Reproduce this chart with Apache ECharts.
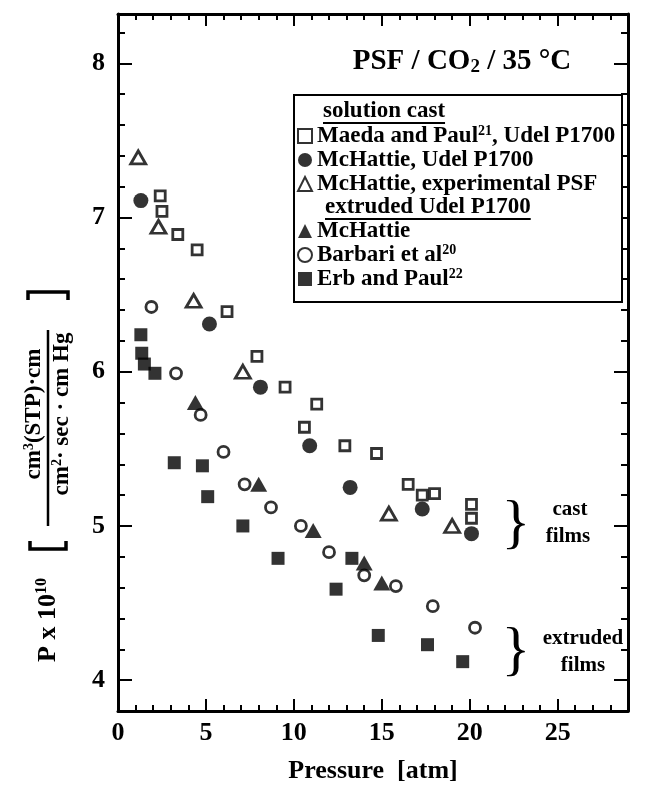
<!DOCTYPE html>
<html><head><meta charset="utf-8">
<script src="https://cdn.jsdelivr.net/npm/echarts@6/dist/echarts.min.js"></script>
<style>html,body{margin:0;padding:0;background:#fff}#c{width:646px;height:789px}</style>
</head><body><div id="c"></div>
<script>
// ---- data ----
const xMajor = [0, 5, 10, 15, 20, 25];
const xMinor = [1,2,3,4,6,7,8,9,11,12,13,14,16,17,18,19,21,22,23,24,26,27,28];
const yMajor = [4, 5, 6, 7, 8];
const yMinor = [4.2,4.4,4.6,4.8,5.2,5.4,5.6,5.8,6.2,6.4,6.6,6.8,7.2,7.4,7.6,7.8,8.2];

const seriesNames = [
  'Maeda and Paul, Udel P1700',
  'McHattie, Udel P1700',
  'McHattie, experimental PSF',
  'McHattie',
  'Barbari et al',
  'Erb and Paul'
];
const nameSup = { 'Maeda and Paul, Udel P1700': ['Maeda and Paul', '21', ', Udel P1700'], 'Barbari et al': ['Barbari et al', '20', ''], 'Erb and Paul': ['Erb and Paul', '22', ''] };

const maedaPaul = [[2.4,7.14],[2.5,7.04],[3.4,6.89],[4.5,6.79],[6.2,6.39],[7.9,6.10],[9.5,5.90],[10.6,5.64],[11.3,5.79],[12.9,5.52],[14.7,5.47],[16.5,5.27],[17.3,5.20],[18.0,5.21],[20.1,5.14],[20.1,5.05]];
const mchattieUdel = [[1.3,7.11],[5.2,6.31],[8.1,5.90],[10.9,5.52],[13.2,5.25],[17.3,5.11],[20.1,4.95]];
const mchattieExp = [[1.15,7.39],[2.3,6.94],[4.3,6.46],[7.1,6.00],[15.4,5.08],[19.0,5.00]];
const mchattieExt = [[4.4,5.80],[8.0,5.27],[11.1,4.97],[14.0,4.76],[15.0,4.63]];
const barbari = [[1.9,6.42],[3.3,5.99],[4.7,5.72],[6.0,5.48],[7.2,5.27],[8.7,5.12],[10.4,5.00],[12.0,4.83],[14.0,4.68],[15.8,4.61],[17.9,4.48],[20.3,4.34]];
const erbPaul = [[1.3,6.24],[1.35,6.12],[1.5,6.05],[2.1,5.99],[3.2,5.41],[4.8,5.39],[5.1,5.19],[7.1,5.00],[9.1,4.79],[12.4,4.59],[13.3,4.79],[14.8,4.29],[17.6,4.23],[19.6,4.12]];

// ---- styling ----
const FONT = '"Liberation Serif", "Times New Roman", serif';
const BLK = '#000';
const chart = echarts.init(document.getElementById('c'), null, { renderer: 'canvas' });

function textWidth(t, size) {
  const c = document.createElement('canvas').getContext('2d');
  c.font = 'bold ' + size + 'px ' + FONT;
  return c.measureText(t).width;
}

function xAx(pos, vals, len, line, labels) {
  return {
    type: 'value', min: 0, max: 29, position: pos,
    axisLine: { show: line, onZero: false, lineStyle: { color: BLK, width: 3 } },
    axisTick: { show: true, inside: true, length: len, customValues: vals, lineStyle: { color: BLK, width: 2 } },
    axisLabel: labels ? { show: true, customValues: vals, margin: 9, fontSize: 26, fontWeight: 'bold', fontFamily: FONT, color: BLK } : { show: false },
    splitLine: { show: false }
  };
}
function yAx(pos, vals, len, line, labels) {
  return {
    type: 'value', min: 3.8, max: 8.32, position: pos,
    axisLine: { show: line, onZero: false, lineStyle: { color: BLK, width: 3 } },
    axisTick: { show: true, inside: true, length: len, customValues: vals, lineStyle: { color: BLK, width: 2 } },
    axisLabel: labels ? { show: true, customValues: vals, margin: 13, fontSize: 26, fontWeight: 'bold', fontFamily: FONT, color: BLK } : { show: false },
    splitLine: { show: false }
  };
}

const xAxes = [xAx('bottom', xMajor, 12, true, true), xAx('bottom', xMinor, 6, false, false), xAx('top', xMajor, 12, true, false), xAx('top', xMinor, 6, false, false)];
xAxes[0].name = 'Pressure  [atm]';
xAxes[0].nameLocation = 'middle';
xAxes[0].nameGap = 47;
xAxes[0].nameTextStyle = { fontSize: 26, fontWeight: 'bold', fontFamily: FONT, color: BLK };
const yAxes = [yAx('left', yMajor, 14, true, true), yAx('left', yMinor, 7, false, false), yAx('right', yMajor, 14, true, false), yAx('right', yMinor, 7, false, false)];

const openStyle = { color: '#fff', borderColor: BLK, borderWidth: 2.8 };
const fillStyle = { color: BLK, borderWidth: 0 };
const seriesDefs = [
  { data: maedaPaul, symbol: 'rect', size: 10, style: openStyle },
  { data: mchattieUdel, symbol: 'circle', size: 15, style: fillStyle },
  { data: mchattieExp, symbol: 'triangle', size: [15, 13], style: openStyle },
  { data: mchattieExt, symbol: 'triangle', size: [17, 15], style: fillStyle },
  { data: barbari, symbol: 'circle', size: 11, style: openStyle },
  { data: erbPaul, symbol: 'rect', size: 13, style: fillStyle }
];
const series = seriesDefs.map((d, i) => ({
  type: 'scatter', name: seriesNames[i], data: d.data, symbol: d.symbol, symbolSize: d.size,
  itemStyle: d.style, xAxisIndex: 0, yAxisIndex: 0, emphasis: { disabled: true }
}));

const LF = 23;
const legendText = { fontSize: LF, fontWeight: 'bold', fontFamily: FONT, color: BLK, lineHeight: 24,
  rich: {
    t: { fontSize: LF, fontWeight: 'bold', fontFamily: FONT, color: BLK, lineHeight: 24 },
    s: { fontSize: 14, fontWeight: 'bold', fontFamily: FONT, color: BLK, lineHeight: 12, verticalAlign: 'top' }
  } };
function legendFmt(n) {
  const p = nameSup[n];
  return p ? '{t|' + p[0] + '}{s|' + p[1] + '}' + (p[2] ? '{t|' + p[2] + '}' : '') : '{t|' + n + '}';
}
function legend(names, top) {
  return { show: true, orient: 'vertical', left: 297, top: top, itemWidth: 14, itemHeight: 14, itemGap: 0,
    padding: 0, selectedMode: false, data: names, textStyle: legendText, formatter: legendFmt };
}

const hdr1 = 'solution cast', hdr2 = 'extruded Udel P1700';
const w1 = textWidth(hdr1, LF) || 120, w2 = textWidth(hdr2, LF) || 210;

const graphic = [
  { type: 'rect', z: 1, shape: { x: 294, y: 95, width: 328, height: 207 }, style: { fill: '#fff', stroke: BLK, lineWidth: 2 } },
  { type: 'text', z: 2, x: 323, y: 111, style: { text: hdr1, font: 'bold ' + LF + 'px ' + FONT, fill: BLK, align: 'left', verticalAlign: 'middle' } },
  { type: 'line', z: 2, shape: { x1: 323, y1: 123, x2: 323 + w1, y2: 123 }, style: { stroke: BLK, lineWidth: 2 } },
  { type: 'text', z: 2, x: 325, y: 207, style: { text: hdr2, font: 'bold ' + LF + 'px ' + FONT, fill: BLK, align: 'left', verticalAlign: 'middle' } },
  { type: 'line', z: 2, shape: { x1: 325, y1: 219, x2: 325 + w2, y2: 219 }, style: { stroke: BLK, lineWidth: 2 } },
  // title
  { type: 'text', x: 462, y: 62, style: { text: '{t|PSF / CO}{b|2}{t| / 35 °C}', align: 'center', verticalAlign: 'middle', fill: BLK,
      rich: { t: { fontSize: 29, fontWeight: 'bold', fontFamily: FONT, color: BLK, lineHeight: 30 },
              b: { fontSize: 19, fontWeight: 'bold', fontFamily: FONT, color: BLK, lineHeight: 14, verticalAlign: 'bottom' } } } },
  // braces and labels
  { type: 'text', x: 516, y: 525, style: { text: '}', font: '60px ' + FONT, fill: BLK, align: 'center', verticalAlign: 'middle' } },
  { type: 'text', x: 570, y: 510, style: { text: 'cast', font: 'bold 21px ' + FONT, fill: BLK, align: 'center', verticalAlign: 'middle' } },
  { type: 'text', x: 568, y: 537, style: { text: 'films', font: 'bold 21px ' + FONT, fill: BLK, align: 'center', verticalAlign: 'middle' } },
  { type: 'text', x: 516, y: 652, style: { text: '}', font: '60px ' + FONT, fill: BLK, align: 'center', verticalAlign: 'middle' } },
  { type: 'text', x: 583, y: 639, style: { text: 'extruded', font: 'bold 21px ' + FONT, fill: BLK, align: 'center', verticalAlign: 'middle' } },
  { type: 'text', x: 583, y: 666, style: { text: 'films', font: 'bold 21px ' + FONT, fill: BLK, align: 'center', verticalAlign: 'middle' } },
  // y axis title, rotated
  { type: 'group', x: 48, y: 662, rotation: Math.PI / 2, children: [
    { type: 'text', x: 0, y: 0, style: { text: '{t|P x 10}{s|10}', align: 'left', verticalAlign: 'middle', fill: BLK,
        rich: { t: { fontSize: 26, fontWeight: 'bold', fontFamily: FONT, color: BLK, lineHeight: 28 },
                s: { fontSize: 16, fontWeight: 'bold', fontFamily: FONT, color: BLK, lineHeight: 14, verticalAlign: 'top' } } } },
    { type: 'polyline', shape: { points: [[121, -18], [113, -18], [113, 18], [121, 18]] }, style: { stroke: BLK, lineWidth: 3.5, fill: null } },
    { type: 'text', x: 248, y: -14, style: { text: '{t|cm}{s|3}{t|(STP)·cm}', align: 'center', verticalAlign: 'middle', fill: BLK,
        rich: { t: { fontSize: 23, fontWeight: 'bold', fontFamily: FONT, color: BLK, lineHeight: 24 },
                s: { fontSize: 14, fontWeight: 'bold', fontFamily: FONT, color: BLK, lineHeight: 12, verticalAlign: 'top' } } } },
    { type: 'line', shape: { x1: 136, y1: 0, x2: 332, y2: 0 }, style: { stroke: BLK, lineWidth: 2.5 } },
    { type: 'text', x: 248, y: 14, style: { text: '{t|cm}{s|2}{t|· sec · cm Hg}', align: 'center', verticalAlign: 'middle', fill: BLK,
        rich: { t: { fontSize: 23, fontWeight: 'bold', fontFamily: FONT, color: BLK, lineHeight: 24 },
                s: { fontSize: 14, fontWeight: 'bold', fontFamily: FONT, color: BLK, lineHeight: 12, verticalAlign: 'top' } } } },
    { type: 'polyline', shape: { points: [[362, -20], [370, -20], [370, 20], [362, 20]] }, style: { stroke: BLK, lineWidth: 3.5, fill: null } }
  ] }
];

chart.setOption({
  animation: false,
  backgroundColor: '#fff',
  grid: { left: 118, right: 18, top: 14, bottom: 76, containLabel: false },
  xAxis: xAxes,
  yAxis: yAxes,
  legend: [legend(seriesNames.slice(0, 3), 124), legend(seriesNames.slice(3), 219)],
  graphic: graphic,
  series: series
});
</script>
</body></html>
